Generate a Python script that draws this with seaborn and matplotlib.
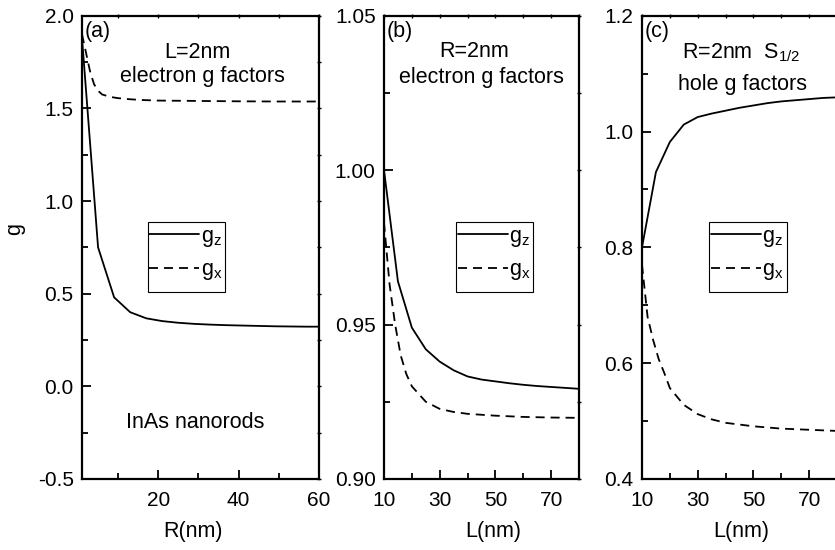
import matplotlib
matplotlib.use("Agg")
import matplotlib.pyplot as plt
from matplotlib.ticker import MultipleLocator, FixedLocator, FormatStrFormatter
from matplotlib.lines import Line2D
from matplotlib.patches import Rectangle
import pandas as pd
import seaborn as sns

# (a) electron g factors vs radius, L = 2 nm
R_gz = [1, 5, 9, 13, 17, 21, 25, 29, 33, 37, 41, 45, 49, 53, 57, 60]
gz_a = [1.88, 0.75, 0.48, 0.40, 0.367, 0.352, 0.343, 0.337, 0.333, 0.330, 0.328, 0.326, 0.324, 0.323, 0.322, 0.322]
R_gx = [1, 2, 3, 4, 5, 6, 8, 10, 13, 16, 20, 30, 40, 50, 60]
gx_a = [1.90, 1.80, 1.70, 1.63, 1.595, 1.575, 1.562, 1.555, 1.549, 1.545, 1.542, 1.540, 1.538, 1.537, 1.537]

# (b) electron g factors vs length, R = 2 nm
L_gz_b = [10, 15, 20, 25, 30, 35, 40, 45, 50, 55, 60, 65, 70, 75, 80]
gz_b = [1.000, 0.964, 0.949, 0.942, 0.938, 0.9352, 0.9332, 0.9322, 0.9316, 0.9310, 0.9305, 0.9301, 0.9298, 0.9295, 0.9292]
L_gx_b = [10, 12, 14, 16, 18, 20, 25, 30, 35, 40, 50, 60, 70, 80]
gx_b = [0.983, 0.963, 0.950, 0.940, 0.934, 0.930, 0.925, 0.9227, 0.9217, 0.9211, 0.9205, 0.9201, 0.9199, 0.9198]

# (c) S1/2 hole g factors vs length, R = 2 nm
L_gz_c = [10, 15, 20, 25, 30, 35, 40, 45, 50, 55, 60, 65, 70, 75, 80]
gz_c = [0.800, 0.930, 0.982, 1.012, 1.025, 1.031, 1.036, 1.041, 1.045, 1.049, 1.052, 1.054, 1.056, 1.058, 1.059]
L_gx_c = [10, 12, 14, 16, 18, 20, 25, 30, 35, 40, 50, 60, 70, 80]
gx_c = [0.770, 0.680, 0.640, 0.607, 0.583, 0.557, 0.528, 0.512, 0.503, 0.497, 0.491, 0.487, 0.485, 0.483]

series_names = ["g_z", "g_x"]
legend_labels = [r"g$_\mathregular{z}$", r"g$_\mathregular{x}$"]

sns.set_style("ticks")
plt.rcParams["font.family"] = ["Liberation Sans", "DejaVu Sans"]
plt.rcParams["mathtext.fontset"] = "custom"
plt.rcParams["mathtext.rm"] = "Liberation Sans"
plt.rcParams["axes.unicode_minus"] = False
for key in ("text.color", "axes.labelcolor", "xtick.color", "ytick.color", "axes.edgecolor"):
    plt.rcParams[key] = "black"

FS = 15.5      # annotation / label size
TFS = 15       # tick label size
LW = 1.3
DASH = (5, 3.3)

W, H = 835.0, 550.0
fig = plt.figure(figsize=(W / 100, H / 100), dpi=100)

Y_TOP, Y_BOT = 15.7, 479.0


class Panel:
    def __init__(self, x0, x1):
        self.x0, self.x1 = x0, x1
        self.ax = fig.add_axes([x0 / W, 1 - Y_BOT / H, (x1 - x0) / W, (Y_BOT - Y_TOP) / H])

    def fx(self, px):
        return (px - self.x0) / (self.x1 - self.x0)

    @staticmethod
    def fy(py):
        return (Y_BOT - py) / (Y_BOT - Y_TOP)


pa = Panel(82, 319)
pb = Panel(384, 579)
pc = Panel(642, 837)


def draw_panel(p, xz, yz, xx, yx):
    ax = p.ax
    df = pd.concat([
        pd.DataFrame({"x": xz, "g": yz, "series": series_names[0]}),
        pd.DataFrame({"x": xx, "g": yx, "series": series_names[1]}),
    ])
    sns.lineplot(data=df, x="x", y="g", style="series",
                 dashes={series_names[0]: "", series_names[1]: DASH},
                 color="black", lw=LW, ax=ax, legend=False,
                 estimator=None, sort=False)
    ax.set_ylabel("")
    for s in ax.spines.values():
        s.set_linewidth(1.6)
        s.set_color("black")
    ax.tick_params(which="both", direction="in", top=False, right=False,
                   width=1.3, colors="black", labelsize=TFS)
    ax.tick_params(which="major", length=6.5)
    ax.tick_params(axis="x", which="major", pad=8.5)
    ax.tick_params(axis="y", which="major", pad=6)
    ax.tick_params(which="minor", length=4.3)
    # short marks on the top and right frame lines
    top = ax.secondary_xaxis("top")
    right = ax.secondary_yaxis("right")
    for sec in (top, right):
        sec.tick_params(which="both", direction="inout", length=3, width=1.0,
                        labeltop=False, labelright=False, labelbottom=False, labelleft=False)
        sec.spines[:].set_visible(False)
    return top, right


def add_legend(p, box_left, box_right, box_top=222, box_bot=292):
    ax = p.ax
    ax.add_patch(Rectangle((p.fx(box_left), p.fy(box_bot)),
                           p.fx(box_right) - p.fx(box_left), p.fy(box_top) - p.fy(box_bot),
                           transform=ax.transAxes, fill=True, facecolor="white",
                           edgecolor="black", lw=0.8, zorder=4))
    handles = [Line2D([], [], color="black", lw=LW),
               Line2D([], [], color="black", lw=LW, dashes=DASH)]
    leg = ax.legend(handles, legend_labels, loc="center left",
                    bbox_to_anchor=(p.fx(box_left + 1.5), p.fy(254)), borderaxespad=0,
                    fontsize=FS, handlelength=2.33, handletextpad=0.08,
                    labelspacing=0.5, borderpad=0, frameon=False)
    leg.set_zorder(5)


def text(p, px, py, s, ha="center", va="center"):
    p.ax.text(p.fx(px), p.fy(py), s, transform=p.ax.transAxes, ha=ha, va=va,
              fontsize=FS, color="black")


# panel (a)
top, right = draw_panel(pa, R_gz, gz_a, R_gx, gx_a)
ax = pa.ax
ax.set_xlim(1, 60)
ax.set_ylim(-0.5, 2.0)
for a in (ax, top):
    a.xaxis.set_major_locator(MultipleLocator(20))
    a.xaxis.set_minor_locator(MultipleLocator(10))
for a in (ax, right):
    a.yaxis.set_major_locator(MultipleLocator(0.5))
    a.yaxis.set_minor_locator(MultipleLocator(0.25))
ax.yaxis.set_major_formatter(FormatStrFormatter("%.1f"))
ax.set_xlabel("R(nm)", fontsize=FS)
ax.set_ylabel("g", fontsize=FS)
ax.yaxis.set_label_coords(pa.fx(25), pa.fy(229))
ax.xaxis.set_label_coords(pa.fx(193), pa.fy(521))
add_legend(pa, 147.7, 224.7)
text(pa, 85, 32, "(a)", ha="left")
text(pa, 197, 53, "L=2nm")
text(pa, 202.5, 77, "electron g factors")
text(pa, 195, 422, "InAs nanorods")

# panel (b)
top, right = draw_panel(pb, L_gz_b, gz_b, L_gx_b, gx_b)
ax = pb.ax
ax.set_xlim(10, 80)
ax.set_ylim(0.90, 1.05)
for a in (ax, top):
    a.xaxis.set_major_locator(FixedLocator([10, 30, 50, 70]))
    a.xaxis.set_minor_locator(FixedLocator([20, 40, 60, 80]))
for a in (ax, right):
    a.yaxis.set_major_locator(MultipleLocator(0.05))
    a.yaxis.set_minor_locator(MultipleLocator(0.025))
ax.yaxis.set_major_formatter(FormatStrFormatter("%.2f"))
ax.set_xlabel("L(nm)", fontsize=FS)
ax.xaxis.set_label_coords(pb.fx(493), pb.fy(521))
add_legend(pb, 456, 533)
text(pb, 387, 32, "(b)", ha="left")
text(pb, 474, 52, "R=2nm")
text(pb, 481, 78, "electron g factors")

# panel (c)
top, right = draw_panel(pc, L_gz_c, gz_c, L_gx_c, gx_c)
ax = pc.ax
ax.set_xlim(10, 80)
ax.set_ylim(0.4, 1.2)
for a in (ax, top):
    a.xaxis.set_major_locator(FixedLocator([10, 30, 50, 70]))
    a.xaxis.set_minor_locator(FixedLocator([20, 40, 60, 80]))
for a in (ax, right):
    a.yaxis.set_major_locator(MultipleLocator(0.2))
    a.yaxis.set_minor_locator(MultipleLocator(0.1))
ax.yaxis.set_major_formatter(FormatStrFormatter("%.1f"))
ax.set_xlabel("L(nm)", fontsize=FS)
ax.xaxis.set_label_coords(pc.fx(741), pc.fy(521))
add_legend(pc, 709, 787)
text(pc, 645, 32, "(c)", ha="left")
text(pc, 741, 53, r"R=2nm  S$_\mathregular{1/2}$")
text(pc, 743, 85, "hole g factors")

fig.savefig("out.png", dpi=100)
